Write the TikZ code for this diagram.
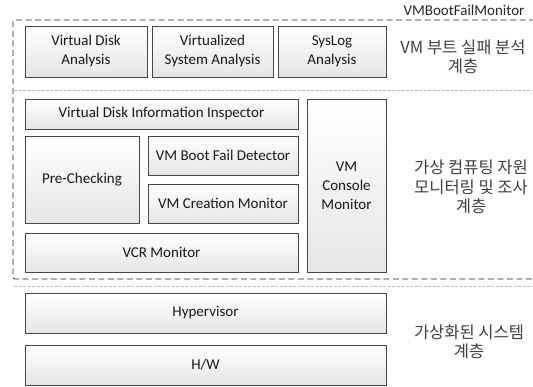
\documentclass[tikz,border=0pt]{standalone}
\usepackage{fontspec}
\setmainfont{Carlito}
\newfontfamily\kr{Noto Sans CJK KR}
\usetikzlibrary{shadows}
\tikzset{
  box/.style={draw=gray!55!black, line width=0.6pt, top color=white, bottom color=gray!20,
    align=center, font=\fontsize{15}{19}\selectfont, text=black!90,
    inner sep=0pt, outer sep=0pt, anchor=north west,
    drop shadow={shadow xshift=1pt, shadow yshift=-1pt, opacity=0.25, fill=gray}},
  layerlabel/.style={align=center, font=\kr\fontsize{16.5}{19.5}\selectfont, text=black!75, inner sep=0pt},
  framestyle/.style={draw=gray!25!black, line width=0.8pt, dash pattern=on 6pt off 3.5pt, rounded corners=2pt},
  sepstyle/.style={draw=gray!55, line width=0.7pt, dash pattern=on 3pt off 1.5pt},
}
\begin{document}
\begin{tikzpicture}[x=1pt,y=-1pt]
\useasboundingbox (0,0) rectangle (533,387);
% frame and separators
\coordinate (ftr) at (535,20);
\coordinate (ftl) at (13,20);
\coordinate (fbl) at (13,279);
\coordinate (fbr) at (535,279);
\draw[framestyle] (ftr) -- (ftl) -- (fbl) -- (fbr);
\coordinate (s1l) at (14,90);
\coordinate (s1r) at (535,90);
\draw[sepstyle] (s1l) -- (s1r);
\coordinate (s2l) at (14,286);
\coordinate (s2r) at (535,286);
\draw[sepstyle] (s2l) -- (s2r);
\node[font=\fontsize{15}{17}\selectfont, text=black!85, inner sep=0pt] (title) at (464,10) {VMBootFailMonitor};
% analysis layer
\node[box, minimum width=122, minimum height=51] (vda) at (25,26) {Virtual Disk\\Analysis};
\node[box, minimum width=121, minimum height=51] (vsa) at (152,26) {Virtualized\\System Analysis};
\node[box, minimum width=108, minimum height=51] (sla) at (278,26) {SysLog\\Analysis};
\node[layerlabel] (l1) at (463,57) {VM 부트 실패 분석\\계층};
% monitoring layer
\node[box, minimum width=273, minimum height=30] (vdii) at (25,99) {Virtual Disk Information Inspector};
\node[box, minimum width=114, minimum height=87] (pre) at (25,136) {Pre-Checking};
\node[box, minimum width=150, minimum height=39] (vbfd) at (148,136) {VM Boot Fail Detector};
\node[box, minimum width=150, minimum height=39] (vcm) at (148,184) {VM Creation Monitor};
\node[box, minimum width=273, minimum height=39] (vcr) at (25,233) {VCR Monitor};
\node[box, minimum width=79, minimum height=173] (vcon) at (307,99) {VM\\Console\\Monitor};
\node[layerlabel] (l2) at (471,187) {가상 컴퓨팅 자원\\모니터링 및 조사\\계층};
% system layer
\node[box, minimum width=361, minimum height=40] (hyp) at (25,293) {Hypervisor};
\node[box, minimum width=361, minimum height=40] (hw) at (25,345) {H/W};
\node[layerlabel] (l3) at (469,342) {가상화된 시스템\\계층};
\end{tikzpicture}
\end{document}
